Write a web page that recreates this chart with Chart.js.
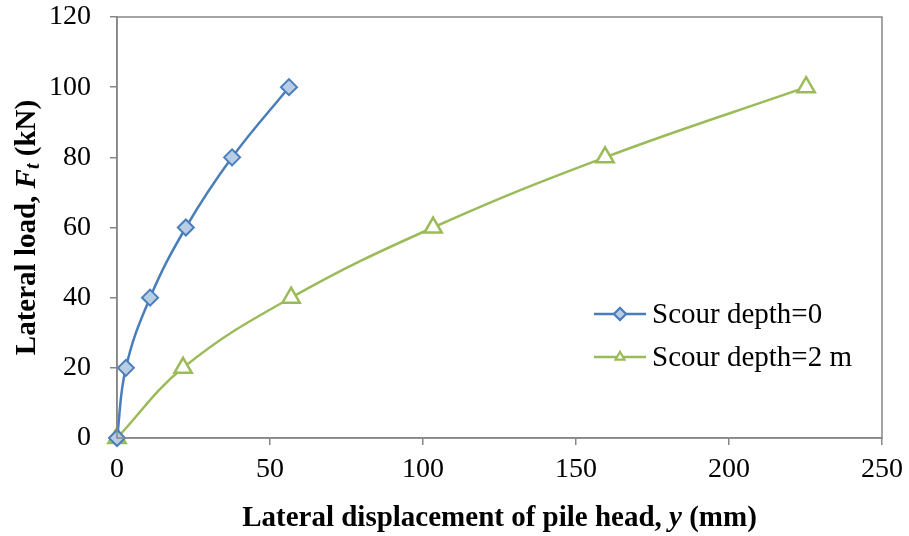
<!DOCTYPE html>
<html>
<head>
<meta charset="utf-8">
<script src="https://cdn.jsdelivr.net/npm/chart.js@4/dist/chart.umd.min.js"></script>
<style>
  html, body { margin: 0; padding: 0; background: #fff; }
  #wrap { width: 909px; height: 536px; }
</style>
</head>
<body>
<div id="wrap"><canvas id="pileChart" width="909" height="536"></canvas></div>
<script>
// lateral load steps (kN) and pile head displacement (mm)
const loadKN = [0, 20, 40, 60, 80, 100];
const dispScour0 = [0, 2.9, 10.8, 22.5, 37.6, 56.2];
const dispScour2 = [0, 21.6, 56.9, 103.3, 159.5, 225.2];
const seriesNames = ['Scour depth=0', 'Scour depth=2 m'];
const xTicks = [0, 50, 100, 150, 200, 250];
const yTicks = [0, 20, 40, 60, 80, 100, 120];

const BLUE = '#4a7ebb';
const BLUE_FILL = '#b9cde5';
const GREEN = '#9bbb59';
const AXIS = '#868686';
const SERIF = '"Liberation Serif", "Times New Roman", serif';

function pairs(xs, ys) {
  return xs.map((x, i) => ({ x: x, y: ys[i] }));
}

// draws a list of differently styled text pieces centred on (cx, cy)
function drawRuns(ctx, runs, cx, cy) {
  let total = 0;
  runs.forEach(r => { ctx.font = r.font; r.w = ctx.measureText(r.text).width; total += r.w; });
  let x = cx - total / 2;
  ctx.textBaseline = 'middle';
  ctx.textAlign = 'left';
  runs.forEach(r => {
    ctx.font = r.font;
    ctx.fillText(r.text, x, cy + (r.dy || 0));
    x += r.w;
  });
}

const extras = {
  id: 'extras',
  afterDraw(chart) {
    const ctx = chart.ctx;
    const a = chart.chartArea;
    ctx.save();

    // plot frame
    ctx.strokeStyle = AXIS;
    ctx.lineWidth = 1.5;
    ctx.strokeRect(a.left, a.top, a.right - a.left, a.bottom - a.top);

    ctx.fillStyle = '#000';
    // x axis title
    drawRuns(ctx, [
      { text: 'Lateral displacement of pile head, ', font: 'bold 29px ' + SERIF },
      { text: 'y', font: 'italic bold 29px ' + SERIF },
      { text: ' (mm)', font: 'bold 29px ' + SERIF }
    ], (a.left + a.right) / 2, 519);

    // y axis title
    ctx.save();
    ctx.translate(28, (a.top + a.bottom) / 2);
    ctx.rotate(-Math.PI / 2);
    drawRuns(ctx, [
      { text: 'Lateral load, ', font: 'bold 29px ' + SERIF },
      { text: 'F', font: 'italic bold 29px ' + SERIF },
      { text: 't', font: 'italic bold 20px ' + SERIF, dy: 6 },
      { text: ' (kN)', font: 'bold 29px ' + SERIF }
    ], 0, 0);
    ctx.restore();

    // legend inside the plot area
    const rows = [
      { y: 314, color: BLUE, style: 'rectRot', fill: BLUE_FILL, r: 6 },
      { y: 357, color: GREEN, style: 'triangle', fill: '#fff', r: 5 }
    ];
    rows.forEach((row, i) => {
      ctx.strokeStyle = row.color;
      ctx.lineWidth = 2.5;
      ctx.beginPath();
      ctx.moveTo(594, row.y);
      ctx.lineTo(646, row.y);
      ctx.stroke();
      ctx.fillStyle = row.fill;
      ctx.lineWidth = 2;
      Chart.helpers.drawPoint(ctx, { pointStyle: row.style, radius: row.r, borderWidth: 2 }, 620, row.y);
      ctx.fill();
      ctx.stroke();
      ctx.fillStyle = '#000';
      ctx.font = '29px ' + SERIF;
      ctx.textAlign = 'left';
      ctx.textBaseline = 'middle';
      ctx.fillText(seriesNames[i], 652, row.y + 1);
    });

    ctx.restore();
  }
};

new Chart(document.getElementById('pileChart'), {
  type: 'line',
  data: {
    datasets: [
      {
        label: seriesNames[0],
        data: pairs(dispScour0, loadKN),
        borderColor: BLUE,
        backgroundColor: BLUE_FILL,
        borderWidth: 2.5,
        pointStyle: 'rectRot',
        pointRadius: 8,
        pointBorderWidth: 2,
        pointBorderColor: BLUE,
        pointBackgroundColor: BLUE_FILL,
        tension: 0.4
      },
      {
        label: seriesNames[1],
        data: pairs(dispScour2, loadKN),
        borderColor: GREEN,
        backgroundColor: '#fff',
        borderWidth: 2.5,
        pointStyle: 'triangle',
        pointRadius: 10,
        pointBorderWidth: 2.5,
        pointBorderColor: GREEN,
        pointBackgroundColor: '#fff',
        tension: 0.4
      }
    ]
  },
  options: {
    responsive: false,
    animation: false,
    clip: false,
    layout: { padding: { top: 17, right: 27, left: 0, bottom: 0 } },
    plugins: {
      legend: { display: false },
      tooltip: { enabled: false }
    },
    scales: {
      x: {
        type: 'linear',
        min: 0,
        max: 250,
        afterBuildTicks: s => { s.ticks = xTicks.map(v => ({ value: v })); },
        afterFit: s => { s.height = 98; s.paddingLeft = 0; s.paddingRight = 0; },
        ticks: { color: '#000', font: { family: SERIF, size: 28 }, padding: 8 },
        grid: { drawOnChartArea: false, tickLength: 7, color: AXIS, lineWidth: 1.5 },
        border: { color: AXIS, width: 1.5 }
      },
      y: {
        type: 'linear',
        min: 0,
        max: 120,
        afterBuildTicks: s => { s.ticks = yTicks.map(v => ({ value: v })); },
        afterFit: s => { s.width = 117; s.paddingTop = 0; s.paddingBottom = 0; },
        ticks: { color: '#000', font: { family: SERIF, size: 28 }, padding: 19 },
        grid: { drawOnChartArea: false, tickLength: 7, color: AXIS, lineWidth: 1.5 },
        border: { color: AXIS, width: 1.5 }
      }
    }
  },
  plugins: [extras]
});
</script>
</body>
</html>
